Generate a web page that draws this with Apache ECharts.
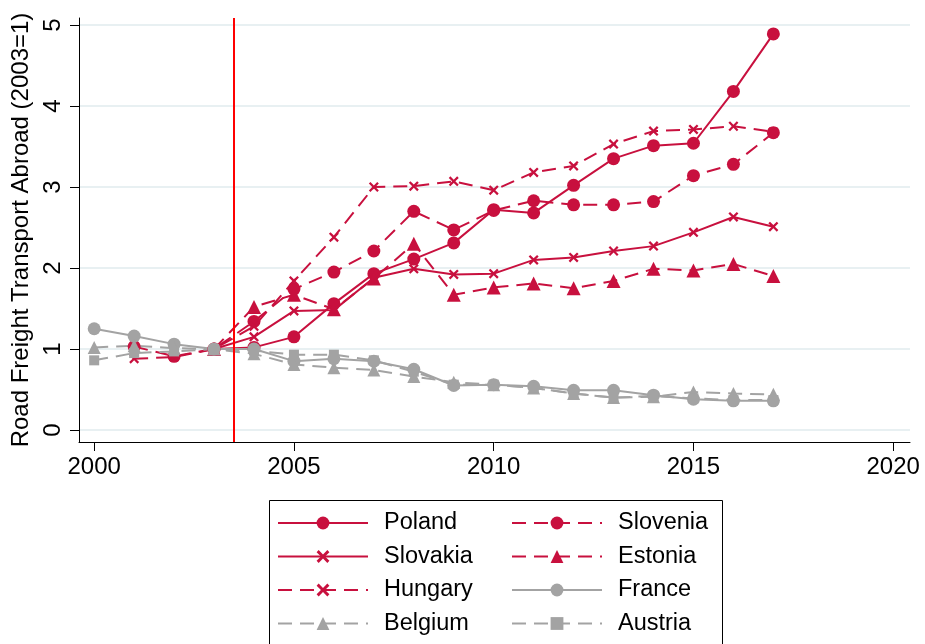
<!DOCTYPE html>
<html>
<head>
<meta charset="utf-8">
<script src="https://cdn.jsdelivr.net/npm/echarts@6/dist/echarts.min.js"></script>
<style>
  html, body { margin: 0; padding: 0; background: #fff; }
  #chart { width: 925px; height: 644px; }
</style>
</head>
<body>
<div id="chart"></div>
<script>
// Years covered by the series
const years = [2000, 2001, 2002, 2003, 2004, 2005, 2006, 2007, 2008, 2009,
               2010, 2011, 2012, 2013, 2014, 2015, 2016, 2017];

// Road freight transport abroad, index 2003 = 1
const poland   = [null, null, null, 1, 1.02, 1.15, 1.56, 1.93, 2.11, 2.31, 2.72, 2.68, 3.02, 3.35, 3.51, 3.54, 4.18, 4.89];
const slovenia = [null, 1.03, 0.91, 1, 1.34, 1.74, 1.95, 2.21, 2.70, 2.47, 2.71, 2.83, 2.78, 2.78, 2.82, 3.14, 3.28, 3.67];
const slovakia = [null, null, null, 1, 1.15, 1.47, 1.48, 1.88, 1.99, 1.92, 1.93, 2.10, 2.13, 2.21, 2.27, 2.44, 2.63, 2.51];
const estonia  = [null, null, null, 1, 1.52, 1.67, 1.49, 1.87, 2.30, 1.67, 1.76, 1.81, 1.75, 1.84, 1.99, 1.97, 2.05, 1.90];
const hungary  = [null, 0.88, 0.90, 1, 1.28, 1.84, 2.38, 3.00, 3.01, 3.07, 2.96, 3.18, 3.26, 3.53, 3.69, 3.71, 3.75, 3.68];
const france   = [1.25, 1.16, 1.06, 1, 1.00, 0.85, 0.88, 0.85, 0.75, 0.55, 0.56, 0.54, 0.49, 0.49, 0.43, 0.38, 0.36, 0.36];
const belgium  = [1.02, 1.04, 1.01, 1, 0.94, 0.81, 0.77, 0.74, 0.66, 0.59, 0.56, 0.52, 0.45, 0.40, 0.41, 0.47, 0.45, 0.44];
const austria  = [0.86, 0.95, 0.97, 1, 0.98, 0.93, 0.93, 0.86, 0.72, 0.56, 0.56, 0.52, 0.45, 0.40, 0.42, 0.39, 0.37, 0.37];

// Axis ticks
const xTicks = [2000, 2005, 2010, 2015, 2020];
const yTicks = [0, 1, 2, 3, 4, 5];
const reformYear = 2003.5;

const RED = '#c8103e';
const GREY = '#a3a3a3';
const FONT = 'Liberation Sans, Arial, Helvetica, sans-serif';
const DASH = [14, 8];
const CROSS = 'path://M0,1.6 L1.6,0 L5,3.4 L8.4,0 L10,1.6 L6.6,5 L10,8.4 L8.4,10 L5,6.6 L1.6,10 L0,8.4 L3.4,5 Z';

function pairs(values) {
  return years.map((y, i) => [y, values[i]]).filter(p => p[1] !== null);
}

function line(name, values, color, dashed, symbol, size) {
  return {
    name: name,
    type: 'line',
    data: pairs(values),
    symbol: symbol,
    symbolSize: size,
    showAllSymbol: true,
    itemStyle: { color: color },
    lineStyle: { color: color, width: 2, type: dashed ? DASH : 'solid' },
    emphasis: { disabled: true },
    animation: false
  };
}

const series = [
  line('Poland', poland, RED, false, 'circle', 13),
  line('Slovenia', slovenia, RED, true, 'circle', 13),
  line('Slovakia', slovakia, RED, false, CROSS, 10),
  line('Estonia', estonia, RED, true, 'triangle', 14),
  line('Hungary', hungary, RED, true, CROSS, 10),
  line('France', france, GREY, false, 'circle', 13),
  line('Belgium', belgium, GREY, true, 'triangle', 13),
  line('Austria', austria, GREY, true, 'rect', 10)
];

// Vertical marker at the reform date
series[0].markLine = {
  silent: true,
  symbol: 'none',
  label: { show: false },
  lineStyle: { color: '#ff0000', width: 2, type: 'solid' },
  data: [{ xAxis: reformYear }],
  animation: false
};

const legendCommon = {
  orient: 'vertical',
  top: 511,
  height: 200,
  padding: 0,
  itemWidth: 90,
  itemHeight: 16,
  itemGap: 9.5,
  selectedMode: false,
  textStyle: { fontFamily: FONT, fontSize: 23.5, color: '#000', padding: [0, 0, 0, 11] }
};

const chart = echarts.init(document.getElementById('chart'), null, { renderer: 'canvas' });
chart.setOption({
  backgroundColor: '#fff',
  animation: false,
  grid: { left: 79, right: 15, top: 18, bottom: 202, containLabel: false },
  xAxis: {
    type: 'value',
    min: 1999.62,
    max: 2020.42,
    axisLine: { onZero: false, lineStyle: { color: '#000', width: 1 } },
    axisTick: { show: true, length: 9, customValues: xTicks, lineStyle: { color: '#000' } },
    axisLabel: {
      customValues: xTicks,
      formatter: v => String(v),
      fontFamily: FONT, fontSize: 24, color: '#000', margin: 13
    },
    splitLine: { show: false }
  },
  yAxis: {
    type: 'value',
    min: -0.148,
    max: 5.086,
    name: 'Road Freight Transport Abroad (2003=1)',
    nameLocation: 'middle',
    nameGap: 39,
    nameTextStyle: { fontFamily: FONT, fontSize: 24, color: '#000' },
    axisLine: { show: true, onZero: false, lineStyle: { color: '#000', width: 1 } },
    axisTick: { show: true, length: 9, customValues: yTicks, lineStyle: { color: '#000' } },
    axisLabel: {
      customValues: yTicks,
      formatter: v => String(v),
      rotate: 90, fontFamily: FONT, fontSize: 24, color: '#000', margin: 14
    },
    splitLine: { show: true, lineStyle: { color: '#e8f0f2', width: 2 } }
  },
  legend: [
    Object.assign({ left: 277, data: ['Poland', 'Slovakia', 'Hungary', 'Belgium'] }, legendCommon),
    Object.assign({ left: 511, data: ['Slovenia', 'Estonia', 'France', 'Austria'] }, legendCommon)
  ],
  graphic: [{
    type: 'rect',
    left: 267,
    top: 498,
    shape: { width: 453, height: 160 },
    style: { fill: 'none', stroke: '#000', lineWidth: 1 },
    silent: true,
    z: 0
  }],
  series: series
});
</script>
</body>
</html>
